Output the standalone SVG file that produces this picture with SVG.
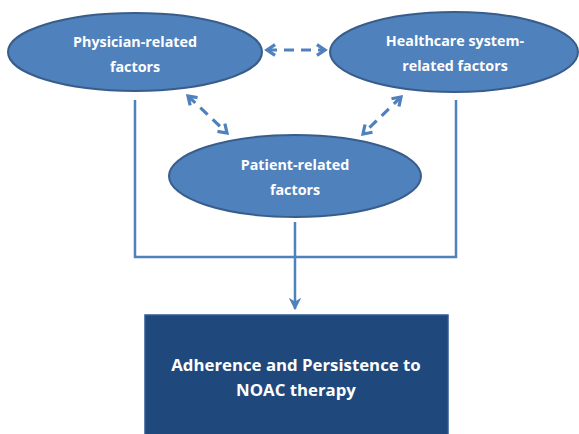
<svg xmlns="http://www.w3.org/2000/svg" width="579" height="434" viewBox="0 0 579 434">
<defs>
<style>
.node ellipse{fill:#4F81BD;stroke:#385D8A;stroke-width:2}
.lbl{fill:#fff;font-family:"Open Sans","Liberation Sans",sans-serif;font-weight:bold;text-anchor:middle}
.conn{fill:none;stroke:#4F81BD;stroke-width:2.5}
.dash{fill:none;stroke:#4F81BD;stroke-width:3.2;stroke-dasharray:10 7}
</style>
<marker id="open" viewBox="0 0 10 10" refX="8" refY="5" markerWidth="4.2" markerHeight="4.2" orient="auto-start-reverse" markerUnits="strokeWidth">
<path d="M2,1 L8,5 L2,9" fill="none" stroke="#4F81BD" stroke-width="2.4" stroke-linejoin="miter"/>
</marker>
<marker id="tri" viewBox="0 0 10 10" refX="9" refY="5" markerWidth="5" markerHeight="5" orient="auto" markerUnits="strokeWidth">
<path d="M0,0 L10,5 L0,10 L3,5 Z" fill="#4F81BD"/>
</marker>
</defs>
<rect width="579" height="434" fill="#fff"/>
<g id="connectors">
<path class="conn" d="M135,100 V257 H456 V100"/>
<path class="conn" d="M295,222 V309" marker-end="url(#tri)"/>
<line class="dash" x1="267" y1="50" x2="325" y2="50" marker-start="url(#open)" marker-end="url(#open)"/>
<line class="dash" x1="188" y1="96" x2="227" y2="133" marker-start="url(#open)" marker-end="url(#open)"/>
<line class="dash" x1="401" y1="97" x2="363" y2="134" marker-start="url(#open)" marker-end="url(#open)"/>
</g>
<g id="physician" class="node">
<ellipse cx="135" cy="52" rx="127" ry="39"/>
<text class="lbl" font-size="14.3" x="135" y="47">Physician-related</text>
<text class="lbl" font-size="14.3" x="135" y="72">factors</text>
</g>
<g id="healthcare" class="node">
<ellipse cx="454" cy="52" rx="124" ry="40"/>
<text class="lbl" font-size="14.3" x="455" y="46">Healthcare system-</text>
<text class="lbl" font-size="14.3" x="455" y="71">related factors</text>
</g>
<g id="patient" class="node">
<ellipse cx="295" cy="176" rx="126" ry="41"/>
<text class="lbl" font-size="14.3" x="295" y="170">Patient-related</text>
<text class="lbl" font-size="14.3" x="295" y="195">factors</text>
</g>
<g id="outcome">
<rect x="145" y="315" width="303" height="125" fill="#1F497D" stroke="#2C5A93" stroke-width="1.5"/>
<text class="lbl" font-size="16.8" x="296" y="371">Adherence and Persistence to</text>
<text class="lbl" font-size="16.8" x="296" y="396">NOAC therapy</text>
</g>
</svg>
